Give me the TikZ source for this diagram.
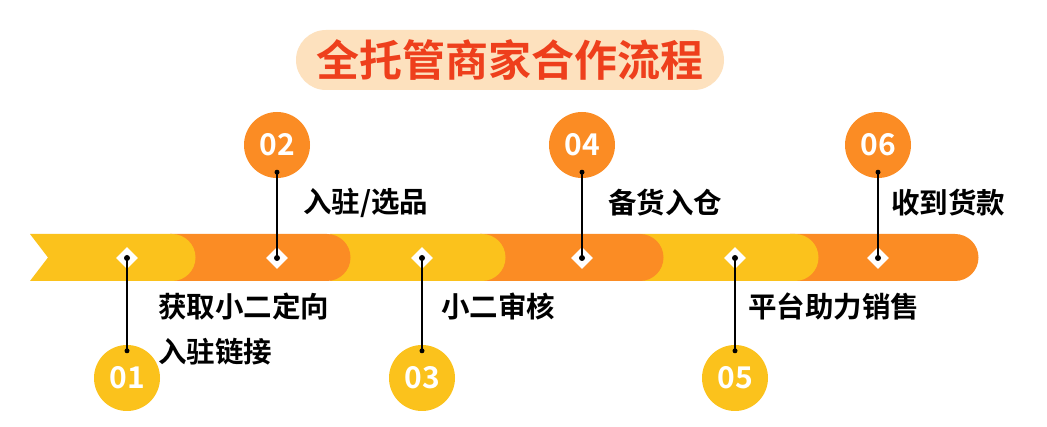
\documentclass[tikz,border=0pt]{standalone}
\usepackage{fontspec}
\setmainfont{Noto Sans CJK SC}[BoldFont={* Bold}]
\newfontfamily\cjkb{Noto Sans CJK SC Bold}
\usetikzlibrary{shapes.geometric}
\definecolor{yel}{HTML}{FBC21C}
\definecolor{org}{HTML}{FB8C24}
\definecolor{peach}{HTML}{FDE1BE}
\definecolor{ttl}{HTML}{EE3F1C}
\tikzset{
 dia/.style={diamond,fill=white,minimum size=22pt,inner sep=0pt},
 num/.style={circle,minimum size=66pt,inner sep=0pt,text=white,font=\cjkb\fontsize{30}{31}\selectfont},
 lab/.style={font=\cjkb\fontsize{28.5}{30}\selectfont,anchor=west,inner sep=0pt},
 conn/.style={black,line width=1.3pt},
 dot/.style={circle,fill=black,inner sep=0pt,minimum size=5pt}
}
\begin{document}
\begin{tikzpicture}[x=1pt,y=-1pt]
\useasboundingbox[fill=white] (0,0) rectangle (1047,427);
% title
\node[fill=peach,rounded corners=30pt,minimum width=428pt,minimum height=60pt,text=ttl,font=\cjkb\fontsize{43}{45}\selectfont] (title) at (510,60) {全托管商家合作流程};
% band (right to left so rounded ends overlap)
\fill[org] (790,234) rectangle (955,281) arc[start angle=-90,end angle=90,radius=23.5pt] -- cycle;
\fill[yel] (640,234) rectangle (795,281) arc[start angle=-90,end angle=90,radius=23.5pt] -- cycle;
\fill[org] (480,234) rectangle (640,281) arc[start angle=-90,end angle=90,radius=23.5pt] -- cycle;
\fill[yel] (330,234) rectangle (482,281) arc[start angle=-90,end angle=90,radius=23.5pt] -- cycle;
\fill[org] (170,234) rectangle (327,281) arc[start angle=-90,end angle=90,radius=23.5pt] -- cycle;
\fill[yel] (30,234) -- (172,234) arc[start angle=90,end angle=-90,radius=23.5pt] -- (30,281) -- (48,257.5) -- cycle;
% diamonds and circles
\foreach \i/\x/\cy/\c in {1/127/378/yel,2/277/145/org,3/422/378/yel,4/582/145/org,5/735/378/yel,6/878/145/org}{
  \node[dia] (d\i) at (\x,258) {};
  \node[num,fill=\c] (c\i) at (\x,\cy) {0\i};
}
\foreach \i in {1,3,5}{
  \node[dot] (e\i) at ([yshift=-6pt]c\i.north) {};
  \draw[conn] (d\i.center) -- (e\i.center);
  \node[dot,minimum size=6pt] at (d\i.center) {};
}
\foreach \i in {2,4,6}{
  \node[dot] (e\i) at ([yshift=6pt]c\i.south) {};
  \draw[conn] (d\i.center) -- (e\i.center);
  \node[dot,minimum size=6pt] at (d\i.center) {};
}
% labels
\node[lab] (l2) at (303,203) {入驻/选品};
\node[lab] (l4) at (608,203) {备货入仓};
\node[lab] (l6) at (891,203) {收到货款};
\node[lab] (l1) at (158,307) {获取小二定向};
\node[lab] (l1b) at (158,352) {入驻链接};
\node[lab] (l3) at (441,307) {小二审核};
\node[lab] (l5) at (748,307) {平台助力销售};
\end{tikzpicture}
\end{document}
